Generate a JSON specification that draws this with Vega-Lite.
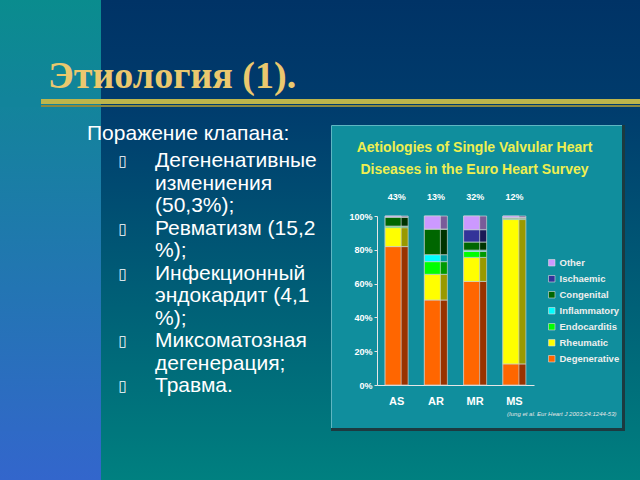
{
  "$schema": "https://vega.github.io/schema/vega-lite/v6.json",
  "padding": 0,
  "background": "#003366",
  "config": {"view": {"stroke": null}, "concat": {"spacing": 0}},
  "datasets": {
    "one": [{"k": 1}],
    "lines": [
      {"line": 1, "kind": "bullet", "text": "Дегененативные"},
      {"line": 2, "kind": "cont", "text": "измениения"},
      {"line": 3, "kind": "cont", "text": "(50,3%);"},
      {"line": 4, "kind": "bullet", "text": "Ревматизм (15,2"},
      {"line": 5, "kind": "cont", "text": "%);"},
      {"line": 6, "kind": "bullet", "text": "Инфекционный"},
      {"line": 7, "kind": "cont", "text": "эндокардит (4,1"},
      {"line": 8, "kind": "cont", "text": "%);"},
      {"line": 9, "kind": "bullet", "text": "Миксоматозная"},
      {"line": 10, "kind": "cont", "text": "дегенерация;"},
      {"line": 11, "kind": "bullet", "text": "Травма."}
    ],
    "causeList": [
      {"cause": "Degenerative", "rank": 1},
      {"cause": "Rheumatic", "rank": 2},
      {"cause": "Endocarditis", "rank": 3},
      {"cause": "Inflammatory", "rank": 4},
      {"cause": "Congenital", "rank": 5},
      {"cause": "Ischaemic", "rank": 6},
      {"cause": "Other", "rank": 7}
    ],
    "causes": [
      {"valve": "AS", "cause": "Degenerative", "pct": 81.9},
      {"valve": "AS", "cause": "Rheumatic", "pct": 11.2},
      {"valve": "AS", "cause": "Endocarditis", "pct": 0.8},
      {"valve": "AS", "cause": "Inflammatory", "pct": 0.1},
      {"valve": "AS", "cause": "Congenital", "pct": 5.4},
      {"valve": "AS", "cause": "Ischaemic", "pct": 0},
      {"valve": "AS", "cause": "Other", "pct": 0.6},
      {"valve": "AR", "cause": "Degenerative", "pct": 50.3},
      {"valve": "AR", "cause": "Rheumatic", "pct": 15.2},
      {"valve": "AR", "cause": "Endocarditis", "pct": 7.5},
      {"valve": "AR", "cause": "Inflammatory", "pct": 4.1},
      {"valve": "AR", "cause": "Congenital", "pct": 15.2},
      {"valve": "AR", "cause": "Ischaemic", "pct": 0},
      {"valve": "AR", "cause": "Other", "pct": 7.7},
      {"valve": "MR", "cause": "Degenerative", "pct": 61.3},
      {"valve": "MR", "cause": "Rheumatic", "pct": 14.2},
      {"valve": "MR", "cause": "Endocarditis", "pct": 3.5},
      {"valve": "MR", "cause": "Inflammatory", "pct": 0.8},
      {"valve": "MR", "cause": "Congenital", "pct": 4.8},
      {"valve": "MR", "cause": "Ischaemic", "pct": 7.3},
      {"valve": "MR", "cause": "Other", "pct": 8.1},
      {"valve": "MS", "cause": "Degenerative", "pct": 12.5},
      {"valve": "MS", "cause": "Rheumatic", "pct": 85.4},
      {"valve": "MS", "cause": "Endocarditis", "pct": 0.6},
      {"valve": "MS", "cause": "Inflammatory", "pct": 0},
      {"valve": "MS", "cause": "Congenital", "pct": 0.6},
      {"valve": "MS", "cause": "Ischaemic", "pct": 0},
      {"valve": "MS", "cause": "Other", "pct": 0.9}
    ],
    "shares": [
      {"valve": "AS", "share": 0.43},
      {"valve": "AR", "share": 0.13},
      {"valve": "MR", "share": 0.32},
      {"valve": "MS", "share": 0.12}
    ]
  },
  "columns": 6,
  "align": "each",
  "bounds": "flush",
  "spacing": 0,
  "concat": [
    {"width": 41, "height": 99, "data": {"name": "one"}, "mark": {"type": "rect", "color": {"gradient": "linear", "x1": 0, "y1": 0, "x2": 0, "y2": 1, "stops": [{"offset": 0, "color": "#0A8C8E"}, {"offset": 1, "color": "#12849B"}]}}, "encoding": {}},
    {"width": 60, "height": 99, "data": {"name": "one"}, "mark": {"type": "rect", "color": {"gradient": "linear", "x1": 0, "y1": 0, "x2": 0, "y2": 1, "stops": [{"offset": 0, "color": "#0A8C8E"}, {"offset": 1, "color": "#12849B"}]}}, "encoding": {}},
    {"width": 230, "height": 99, "data": {"name": "one"}, "mark": {"type": "rect", "color": {"gradient": "linear", "x1": 0, "y1": 0, "x2": 0, "y2": 1, "stops": [{"offset": 0, "color": "#003366"}, {"offset": 1, "color": "#003B6C"}]}}, "encoding": {}},
    {"width": 291, "height": 99, "data": {"name": "one"}, "mark": {"type": "rect", "color": {"gradient": "linear", "x1": 0, "y1": 0, "x2": 0, "y2": 1, "stops": [{"offset": 0, "color": "#003366"}, {"offset": 1, "color": "#003B6C"}]}}, "encoding": {},
     "title": {"text": "Этиология (1).", "anchor": "start", "frame": "group", "dx": -283, "offset": -126, "baseline": "alphabetic", "font": "Liberation Serif", "fontSize": 38, "fontWeight": "bold", "color": "#EBC86E"}},
    {"width": 3, "height": 99, "data": {"name": "one"}, "mark": {"type": "rect", "color": {"gradient": "linear", "x1": 0, "y1": 0, "x2": 0, "y2": 1, "stops": [{"offset": 0, "color": "#003366"}, {"offset": 1, "color": "#003B6C"}]}}, "encoding": {}},
    {"width": 15, "height": 99, "data": {"name": "one"}, "mark": {"type": "rect", "color": {"gradient": "linear", "x1": 0, "y1": 0, "x2": 0, "y2": 1, "stops": [{"offset": 0, "color": "#003366"}, {"offset": 1, "color": "#003B6C"}]}}, "encoding": {}},

    {"width": 41, "height": 8, "data": {"name": "one"}, "mark": {"type": "rect", "color": "#12849B"}, "encoding": {}},
    {"width": 60, "height": 8, "data": {"name": "one"}, "mark": {"type": "rect", "color": {"gradient": "linear", "x1": 0, "y1": 0, "x2": 0, "y2": 1, "stops": [{"offset": 0, "color": "#BDB54B"}, {"offset": 0.625, "color": "#BDB54B"}, {"offset": 0.625, "color": "#13849C"}, {"offset": 0.75, "color": "#13849C"}, {"offset": 0.75, "color": "#8A8840"}, {"offset": 1, "color": "#8A8840"}]}}, "encoding": {}},
    {"width": 230, "height": 8, "data": {"name": "one"}, "mark": {"type": "rect", "color": {"gradient": "linear", "x1": 0, "y1": 0, "x2": 0, "y2": 1, "stops": [{"offset": 0, "color": "#BDB54B"}, {"offset": 0.625, "color": "#BDB54B"}, {"offset": 0.625, "color": "#003C6D"}, {"offset": 0.75, "color": "#003C6D"}, {"offset": 0.75, "color": "#8A8840"}, {"offset": 1, "color": "#8A8840"}]}}, "encoding": {}},
    {"width": 291, "height": 8, "data": {"name": "one"}, "mark": {"type": "rect", "color": {"gradient": "linear", "x1": 0, "y1": 0, "x2": 0, "y2": 1, "stops": [{"offset": 0, "color": "#BDB54B"}, {"offset": 0.625, "color": "#BDB54B"}, {"offset": 0.625, "color": "#003C6D"}, {"offset": 0.75, "color": "#003C6D"}, {"offset": 0.75, "color": "#8A8840"}, {"offset": 1, "color": "#8A8840"}]}}, "encoding": {}},
    {"width": 3, "height": 8, "data": {"name": "one"}, "mark": {"type": "rect", "color": {"gradient": "linear", "x1": 0, "y1": 0, "x2": 0, "y2": 1, "stops": [{"offset": 0, "color": "#BDB54B"}, {"offset": 0.625, "color": "#BDB54B"}, {"offset": 0.625, "color": "#003C6D"}, {"offset": 0.75, "color": "#003C6D"}, {"offset": 0.75, "color": "#8A8840"}, {"offset": 1, "color": "#8A8840"}]}}, "encoding": {}},
    {"width": 15, "height": 8, "data": {"name": "one"}, "mark": {"type": "rect", "color": {"gradient": "linear", "x1": 0, "y1": 0, "x2": 0, "y2": 1, "stops": [{"offset": 0, "color": "#BDB54B"}, {"offset": 0.625, "color": "#BDB54B"}, {"offset": 0.625, "color": "#003C6D"}, {"offset": 0.75, "color": "#003C6D"}, {"offset": 0.75, "color": "#8A8840"}, {"offset": 1, "color": "#8A8840"}]}}, "encoding": {}},

    {"width": 41, "height": 18, "data": {"name": "one"}, "mark": {"type": "rect", "color": {"gradient": "linear", "x1": 0, "y1": 0, "x2": 0, "y2": 1, "stops": [{"offset": 0, "color": "#13849C"}, {"offset": 1, "color": "#15829E"}]}}, "encoding": {}},
    {"width": 60, "height": 18, "data": {"name": "one"}, "mark": {"type": "rect", "color": {"gradient": "linear", "x1": 0, "y1": 0, "x2": 0, "y2": 1, "stops": [{"offset": 0, "color": "#13849C"}, {"offset": 1, "color": "#15829E"}]}}, "encoding": {}},
    {"width": 230, "height": 18, "data": {"name": "one"}, "mark": {"type": "rect", "color": {"gradient": "linear", "x1": 0, "y1": 0, "x2": 0, "y2": 1, "stops": [{"offset": 0, "color": "#003C6D"}, {"offset": 1, "color": "#003F6E"}]}}, "encoding": {}},
    {"width": 291, "height": 18, "data": {"name": "one"}, "mark": {"type": "rect", "color": {"gradient": "linear", "x1": 0, "y1": 0, "x2": 0, "y2": 1, "stops": [{"offset": 0, "color": "#003C6D"}, {"offset": 1, "color": "#003F6E"}]}}, "encoding": {}},
    {"width": 3, "height": 18, "data": {"name": "one"}, "mark": {"type": "rect", "color": {"gradient": "linear", "x1": 0, "y1": 0, "x2": 0, "y2": 1, "stops": [{"offset": 0, "color": "#003C6D"}, {"offset": 1, "color": "#003F6E"}]}}, "encoding": {}},
    {"width": 15, "height": 18, "data": {"name": "one"}, "mark": {"type": "rect", "color": {"gradient": "linear", "x1": 0, "y1": 0, "x2": 0, "y2": 1, "stops": [{"offset": 0, "color": "#003C6D"}, {"offset": 1, "color": "#003F6E"}]}}, "encoding": {}},

    {"width": 41, "height": 303, "data": {"name": "one"}, "mark": {"type": "rect", "color": {"gradient": "linear", "x1": 0, "y1": 0, "x2": 0, "y2": 1, "stops": [{"offset": 0, "color": "#15829E"}, {"offset": 1, "color": "#2F6AC5"}]}}, "encoding": {}},
    {"width": 60, "height": 303, "data": {"name": "one"}, "mark": {"type": "rect", "color": {"gradient": "linear", "x1": 0, "y1": 0, "x2": 0, "y2": 1, "stops": [{"offset": 0, "color": "#15829E"}, {"offset": 1, "color": "#2F6AC5"}]}}, "encoding": {}},
    {"width": 230, "height": 303,
     "title": {"text": "Поражение клапана:", "anchor": "start", "frame": "group", "dx": -14, "offset": -30, "baseline": "middle", "font": "Liberation Sans", "fontSize": 21, "fontWeight": "normal", "color": "#ffffff"},
     "layer": [
      {"data": {"name": "one"}, "mark": {"type": "rect", "color": {"gradient": "linear", "x1": 0, "y1": 0, "x2": 0, "y2": 1, "stops": [{"offset": 0, "color": "#003F6E"}, {"offset": 1, "color": "#00777D"}]}}, "encoding": {}},
      {"data": {"name": "lines"}, "transform": [{"filter": "datum.kind == 'bullet'"}],
       "mark": {"type": "text", "text": "▯", "align": "center", "baseline": "middle", "dx": -93.5, "font": "DejaVu Sans", "fontSize": 15, "color": "#ffffff"},
       "encoding": {"y": {"field": "line", "type": "ordinal", "axis": null, "scale": {"type": "point", "range": [36, 261], "padding": 0}}}},
      {"data": {"name": "lines"},
       "mark": {"type": "text", "align": "left", "baseline": "middle", "dx": -61, "font": "Liberation Sans", "fontSize": 21, "color": "#ffffff"},
       "encoding": {"y": {"field": "line", "type": "ordinal", "axis": null}, "text": {"field": "text", "type": "nominal"}}}
     ]},
    {"width": 291, "height": 303,
     "view": {"fill": "#108E9D", "stroke": "#5FB6C2", "strokeWidth": 1},
     "title": {"text": ["Aetiologies of Single Valvular Heart", "Diseases in the Euro Heart Survey"], "anchor": "middle", "frame": "group", "offset": -52, "baseline": "top", "lineHeight": 22, "dx": -2, "font": "Liberation Sans", "fontSize": 14, "fontWeight": "bold", "color": "#EFEF50"},
     "resolve": {"scale": {"color": "independent"}},
     "layer": [
      {"data": {"name": "causes"},
       "transform": [{"lookup": "cause", "from": {"data": {"name": "causeList"}, "key": "cause", "fields": ["rank"]}}],
       "mark": {"type": "bar", "width": {"band": 0.586}, "stroke": "#c8d4d4", "strokeWidth": 0.7},
       "encoding": {
        "x": {"field": "valve", "type": "nominal", "sort": ["AS", "AR", "MR", "MS"], "scale": {"range": [46, 203], "paddingInner": 0, "paddingOuter": 0},
              "axis": {"title": "(Iung et al. Eur Heart J 2003;24:1244-53)", "orient": "bottom", "offset": -43, "labelAngle": 0, "ticks": false, "labelPadding": 10, "domainColor": "#e6e6e6", "domainWidth": 1, "labelColor": "#ffffff", "labelFont": "Liberation Sans", "labelFontSize": 11, "labelFontWeight": "bold", "titleX": 285, "titleY": 28, "titleAlign": "right", "titleBaseline": "middle", "titleFont": "Liberation Sans", "titleFontSize": 6, "titleFontStyle": "italic", "titleFontWeight": "normal", "titleColor": "#e6e6e6", "grid": false}},
        "y": {"field": "pct", "type": "quantitative", "stack": "zero", "scale": {"domain": [0, 100], "range": [260, 91], "nice": false},
              "axis": {"title": null, "offset": -46, "values": [0, 20, 40, 60, 80, 100], "labelExpr": "datum.value + '%'", "grid": false, "domainColor": "#e6e6e6", "tickColor": "#e6e6e6", "tickSize": 3, "labelColor": "#ffffff", "labelFont": "Liberation Sans", "labelFontSize": 9, "labelFontWeight": "bold", "labelPadding": 2}},
        "order": {"field": "rank", "type": "quantitative"},
        "color": {"field": "cause", "type": "nominal",
                  "scale": {"domain": ["Degenerative", "Rheumatic", "Endocarditis", "Inflammatory", "Congenital", "Ischaemic", "Other"], "range": ["#993300", "#999900", "#009900", "#009999", "#003300", "#1A1A55", "#7A5C99"]}, "legend": null}
       }},
      {"data": {"name": "causes"},
       "transform": [{"lookup": "cause", "from": {"data": {"name": "causeList"}, "key": "cause", "fields": ["rank"]}}],
       "mark": {"type": "bar", "width": {"band": 0.408}, "xOffset": -3.5, "stroke": "#c8d4d4", "strokeWidth": 0.7},
       "encoding": {
        "x": {"field": "valve", "type": "nominal", "sort": ["AS", "AR", "MR", "MS"]},
        "y": {"field": "pct", "type": "quantitative", "stack": "zero"},
        "order": {"field": "rank", "type": "quantitative"},
        "color": {"field": "cause", "type": "nominal",
                  "scale": {"domain": ["Degenerative", "Rheumatic", "Endocarditis", "Inflammatory", "Congenital", "Ischaemic", "Other"], "range": ["#FF6600", "#FFFF00", "#00FF00", "#00FFFF", "#006600", "#333399", "#CC99FF"]},
                  "legend": {"orient": "none", "legendX": 216, "legendY": 133, "title": null, "values": ["Other", "Ischaemic", "Congenital", "Inflammatory", "Endocarditis", "Rheumatic", "Degenerative"], "symbolType": "square", "symbolSize": 42, "symbolStrokeColor": "#dddddd", "symbolStrokeWidth": 0.6, "labelFont": "Liberation Sans", "labelFontSize": 9.5, "labelFontWeight": "bold", "labelColor": "#eeeeee", "rowPadding": 5, "labelOffset": 3, "padding": 0}}
       }},
      {"data": {"name": "shares"},
       "mark": {"type": "text", "dy": -19, "baseline": "middle", "font": "Liberation Sans", "fontSize": 9, "fontWeight": "bold", "color": "#ffffff"},
       "encoding": {
        "x": {"field": "valve", "type": "nominal", "sort": ["AS", "AR", "MR", "MS"]},
        "y": {"datum": 100},
        "text": {"field": "share", "type": "quantitative", "format": ".0%"}
       }}
     ]},
    {"width": 3, "height": 303, "data": {"name": "one"}, "mark": {"type": "rect", "color": "#1C3A40"}, "encoding": {}},
    {"width": 15, "height": 303, "data": {"name": "one"}, "mark": {"type": "rect", "color": {"gradient": "linear", "x1": 0, "y1": 0, "x2": 0, "y2": 1, "stops": [{"offset": 0, "color": "#003F6E"}, {"offset": 1, "color": "#00777D"}]}}, "encoding": {}},

    {"width": 41, "height": 3, "data": {"name": "one"}, "mark": {"type": "rect", "color": "#2F6AC5"}, "encoding": {}},
    {"width": 60, "height": 3, "data": {"name": "one"}, "mark": {"type": "rect", "color": "#2F6AC5"}, "encoding": {}},
    {"width": 230, "height": 3, "data": {"name": "one"}, "mark": {"type": "rect", "color": "#00777D"}, "encoding": {}},
    {"width": 291, "height": 3, "data": {"name": "one"}, "mark": {"type": "rect", "color": "#1C3A40"}, "encoding": {}},
    {"width": 3, "height": 3, "data": {"name": "one"}, "mark": {"type": "rect", "color": "#1C3A40"}, "encoding": {}},
    {"width": 15, "height": 3, "data": {"name": "one"}, "mark": {"type": "rect", "color": "#00777D"}, "encoding": {}},

    {"width": 41, "height": 49, "data": {"name": "one"}, "mark": {"type": "rect", "color": {"gradient": "linear", "x1": 0, "y1": 0, "x2": 0, "y2": 1, "stops": [{"offset": 0, "color": "#2F6AC6"}, {"offset": 1, "color": "#3366CC"}]}}, "encoding": {}},
    {"width": 60, "height": 49, "data": {"name": "one"}, "mark": {"type": "rect", "color": {"gradient": "linear", "x1": 0, "y1": 0, "x2": 0, "y2": 1, "stops": [{"offset": 0, "color": "#2F6AC6"}, {"offset": 1, "color": "#3366CC"}]}}, "encoding": {}},
    {"width": 230, "height": 49, "data": {"name": "one"}, "mark": {"type": "rect", "color": {"gradient": "linear", "x1": 0, "y1": 0, "x2": 0, "y2": 1, "stops": [{"offset": 0, "color": "#00777D"}, {"offset": 1, "color": "#008080"}]}}, "encoding": {}},
    {"width": 291, "height": 49, "data": {"name": "one"}, "mark": {"type": "rect", "color": {"gradient": "linear", "x1": 0, "y1": 0, "x2": 0, "y2": 1, "stops": [{"offset": 0, "color": "#00777D"}, {"offset": 1, "color": "#008080"}]}}, "encoding": {}},
    {"width": 3, "height": 49, "data": {"name": "one"}, "mark": {"type": "rect", "color": {"gradient": "linear", "x1": 0, "y1": 0, "x2": 0, "y2": 1, "stops": [{"offset": 0, "color": "#00777D"}, {"offset": 1, "color": "#008080"}]}}, "encoding": {}},
    {"width": 15, "height": 49, "data": {"name": "one"}, "mark": {"type": "rect", "color": {"gradient": "linear", "x1": 0, "y1": 0, "x2": 0, "y2": 1, "stops": [{"offset": 0, "color": "#00777D"}, {"offset": 1, "color": "#008080"}]}}, "encoding": {}}
  ]
}
